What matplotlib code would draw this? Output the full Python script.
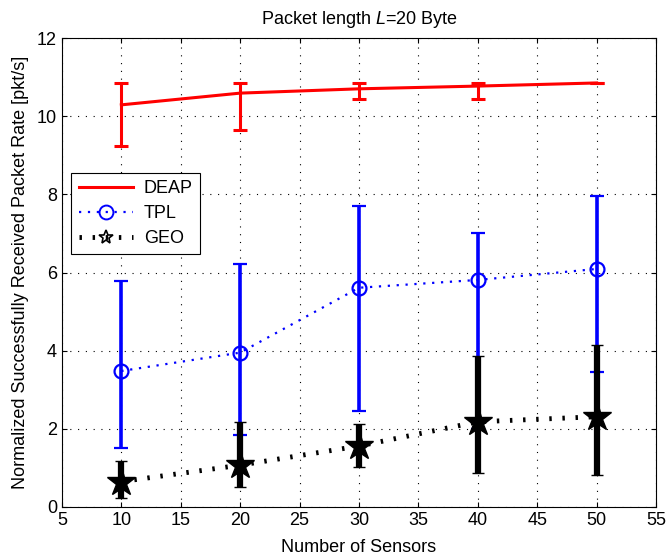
import matplotlib
matplotlib.use("Agg")
import matplotlib.pyplot as plt
from matplotlib.lines import Line2D
import numpy as np

plt.rcParams['font.family'] = ['Liberation Sans', 'DejaVu Sans']
plt.rcParams['mathtext.fontset'] = 'custom'
plt.rcParams['mathtext.it'] = 'Liberation Sans:italic'
plt.rcParams['mathtext.rm'] = 'Liberation Sans'

sensors = [10, 20, 30, 40, 50]

deap = [10.29, 10.59, 10.70, 10.77, 10.85]
deap_upper = [10.85, 10.85, 10.85, 10.85, 10.85]
deap_lower = [9.24, 9.65, 10.44, 10.44, 10.85]

tpl = [3.48, 3.95, 5.61, 5.81, 6.09]
tpl_upper = [5.78, 6.23, 7.70, 7.02, 7.95]
tpl_lower = [1.52, 1.84, 2.46, 2.0, 3.45]

geo = [0.65, 1.07, 1.56, 2.18, 2.31]
geo_upper = [1.18, 2.17, 2.12, 3.86, 4.14]
geo_lower = [0.22, 0.52, 1.03, 0.88, 0.82]

fig = plt.figure(figsize=(6.66, 5.55), dpi=100)
ax = fig.add_axes([0.093, 0.0865, 0.892, 0.845])

def err(vals, up, lo):
    v = np.array(vals); return [v - np.array(lo), np.array(up) - v]

deap_ls = '-'
tpl_ls = (0, (1, 3))
geo_ls = (0, (0.5, 2.2))

ax.errorbar(sensors, deap, yerr=err(deap, deap_upper, deap_lower), color='#ff0000',
            lw=2.2, ls=deap_ls, elinewidth=2.2, capsize=5, capthick=2.2, zorder=3)
ax.errorbar(sensors, tpl, yerr=err(tpl, tpl_upper, tpl_lower), color='#0000ff',
            lw=1.6, ls=tpl_ls, marker='o', ms=10, mfc='none', mew=1.6,
            elinewidth=2.6, capsize=5, capthick=2.6, zorder=3)
ax.errorbar(sensors, geo, yerr=err(geo, geo_upper, geo_lower), color='black',
            lw=3.5, ls=geo_ls, marker='*', ms=21, mfc='black', mew=1,
            elinewidth=4.5, capsize=4, capthick=5, zorder=4)

ax.set_xlim(5, 55)
ax.set_ylim(0, 12)
ax.set_xticks(range(5, 56, 5))
ax.set_yticks(range(0, 13, 2))
ax.grid(True, ls=(0, (1, 6)), color='black', lw=0.8)
ax.tick_params(direction='in', top=True, right=True, labelsize=13)
for s in ax.spines.values():
    s.set_linewidth(0.8)

ax.set_title('Packet length $L$=20 Byte', fontsize=13, pad=10)
ax.set_xlabel('Number of Sensors', fontsize=13, labelpad=7)
ax.set_ylabel('Normalized Successfully Received Packet Rate [pkt/s]', fontsize=13, labelpad=6)

handles = [
    Line2D([], [], color='#ff0000', lw=2.2, ls=deap_ls),
    Line2D([], [], color='#0000ff', lw=1.6, ls=tpl_ls, marker='o', ms=10, mfc='none', mew=1.4),
    Line2D([], [], color='black', lw=3.5, ls=geo_ls, marker='*', ms=10, mfc='none', mew=1.2),
]
leg = ax.legend(handles, ['DEAP', 'TPL', 'GEO'], loc='upper left',
                bbox_to_anchor=(0.016, 0.713), fontsize=13,
                fancybox=False, edgecolor='black', framealpha=1, borderpad=0.4,
                handlelength=3, labelspacing=0.45, handletextpad=0.6,
                borderaxespad=0)
leg.get_frame().set_linewidth(0.8)

fig.savefig('out.png', dpi=100)
